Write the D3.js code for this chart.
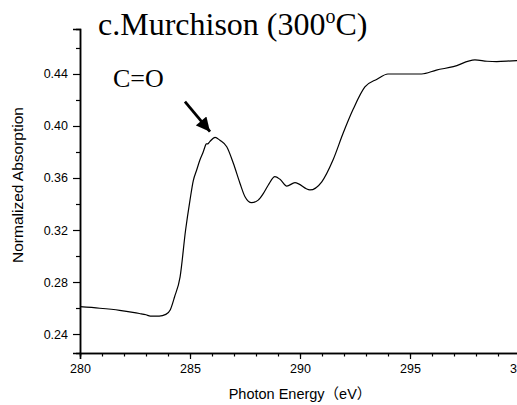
<!DOCTYPE html>
<html>
<head>
<meta charset="utf-8">
<script src="https://cdn.jsdelivr.net/npm/d3@7"></script>
<style>
  html, body { margin: 0; padding: 0; background: #fff; overflow: hidden; }
  svg { display: block; }
  .tick text { font-family: "Liberation Sans", Arial, sans-serif; font-size: 12.5px; fill: #000; }
</style>
</head>
<body>
<div id="chart"></div>
<script>
// spectrum
const energy = [280, 280.9, 281.8, 282.4, 282.7, 283.0, 283.2, 283.6, 283.9, 284.1,
  284.3, 284.55, 284.8, 285.0, 285.15, 285.3, 285.45, 285.6, 285.68, 285.74,
  285.8, 285.9, 286.14, 286.36, 286.67, 286.97, 287.27, 287.5, 287.8, 288.1,
  288.33, 288.56, 288.86, 289.09, 289.4, 289.77, 290.45, 290.99, 291.5, 291.95,
  292.42, 292.95, 293.5, 294.0, 295.53, 296.2, 296.97, 297.95, 298.5, 298.94,
  299.85, 300];
const absorption = [0.261, 0.2598, 0.2582, 0.2567, 0.2558, 0.2548, 0.2538, 0.2538, 0.2551, 0.2585,
  0.2687, 0.284, 0.32, 0.343, 0.358, 0.366, 0.3738, 0.380, 0.384, 0.3862,
  0.3862, 0.388, 0.3913, 0.389, 0.384, 0.3713, 0.356, 0.3456, 0.341, 0.343,
  0.348, 0.3546, 0.361, 0.359, 0.3538, 0.3564, 0.3508, 0.3571, 0.3738, 0.394,
  0.413, 0.430, 0.436, 0.440, 0.440, 0.443, 0.4456, 0.4508, 0.4498, 0.4495,
  0.4502, 0.4502];

const xMajor = [280, 285, 290, 295, 300];
const xMinor = d3.range(280, 301, 1);
const yMajor = [0.24, 0.28, 0.32, 0.36, 0.40, 0.44];
const yMinor = [0.26, 0.30, 0.34, 0.38, 0.42, 0.46];

const titleText = 'c.Murchison (300';
const annotation = { label: 'C=O', from: [284.77, 0.4187], to: [285.91, 0.3956] };

const width = 517, height = 405;
const margin = { top: 29, right: -3, bottom: 52, left: 80 };

const svg = d3.select('#chart').append('svg')
  .attr('width', width)
  .attr('height', height);

const x = d3.scaleLinear()
  .domain([280, 300])
  .range([margin.left, width - margin.right]);

const y = d3.scaleLinear()
  .domain([0.2254, 0.4746])
  .range([height - margin.bottom, margin.top]);

// axes
const xAxisG = svg.append('g')
  .attr('transform', 'translate(0,' + (height - margin.bottom) + ')');
xAxisG.call(d3.axisBottom(x).tickValues(xMinor).tickSize(3.5).tickFormat(''));
xAxisG.append('g').call(d3.axisBottom(x).tickValues(xMajor).tickSize(6).tickPadding(5).tickFormat(d3.format('d')));

const yAxisG = svg.append('g')
  .attr('transform', 'translate(' + margin.left + ',0)');
yAxisG.call(d3.axisLeft(y).tickValues(yMinor).tickSize(4).tickFormat(''));
yAxisG.append('g').call(d3.axisLeft(y).tickValues(yMajor).tickSize(7).tickPadding(5).tickFormat(d3.format('.2f')));

svg.selectAll('.domain').attr('stroke', '#000').attr('stroke-width', 1.5);
svg.selectAll('.tick line').attr('stroke', '#000').attr('stroke-width', 1.2);

// spectrum line
const line = d3.line()
  .x(function(d, i) { return x(energy[i]); })
  .y(function(d) { return y(d); })
  .curve(d3.curveMonotoneX);

svg.append('path')
  .datum(absorption)
  .attr('fill', 'none')
  .attr('stroke', '#000')
  .attr('stroke-width', 1.2)
  .attr('d', line);

// axis titles
svg.append('text')
  .attr('x', x(290))
  .attr('y', 399)
  .attr('text-anchor', 'middle')
  .style('font-family', '"Liberation Sans", Arial, "Noto Sans CJK JP", sans-serif')
  .style('font-size', '14.5px')
  .text('Photon Energy（eV）');

svg.append('text')
  .attr('transform', 'translate(23,185) rotate(-90)')
  .attr('text-anchor', 'middle')
  .style('font-family', '"Liberation Sans", Arial, sans-serif')
  .style('font-size', '15.5px')
  .text('Normalized Absorption');

// title
const title = svg.append('text')
  .attr('x', 98)
  .attr('y', 35)
  .style('font-family', '"Liberation Serif", "Times New Roman", serif')
  .style('font-size', '32px')
  .text(titleText);
title.append('tspan').attr('dy', -12).style('font-size', '20px').text('o');
title.append('tspan').attr('dy', 12).text('C)');

// C=O annotation and arrow
svg.append('text')
  .attr('x', 113)
  .attr('y', 87)
  .style('font-family', '"Liberation Serif", "Times New Roman", serif')
  .style('font-size', '26px')
  .text(annotation.label);

svg.append('defs').append('marker')
  .attr('id', 'head')
  .attr('viewBox', '0 0 10 10')
  .attr('refX', 10).attr('refY', 5)
  .attr('markerUnits', 'userSpaceOnUse')
  .attr('markerWidth', 15).attr('markerHeight', 14)
  .attr('orient', 'auto')
  .append('path')
  .attr('d', 'M0,0 L10,5 L0,10 Z')
  .attr('fill', '#000');

svg.append('line')
  .attr('x1', x(annotation.from[0])).attr('y1', y(annotation.from[1]))
  .attr('x2', x(annotation.to[0])).attr('y2', y(annotation.to[1]))
  .attr('stroke', '#000')
  .attr('stroke-width', 2.8)
  .attr('marker-end', 'url(#head)');
</script>
</body>
</html>
